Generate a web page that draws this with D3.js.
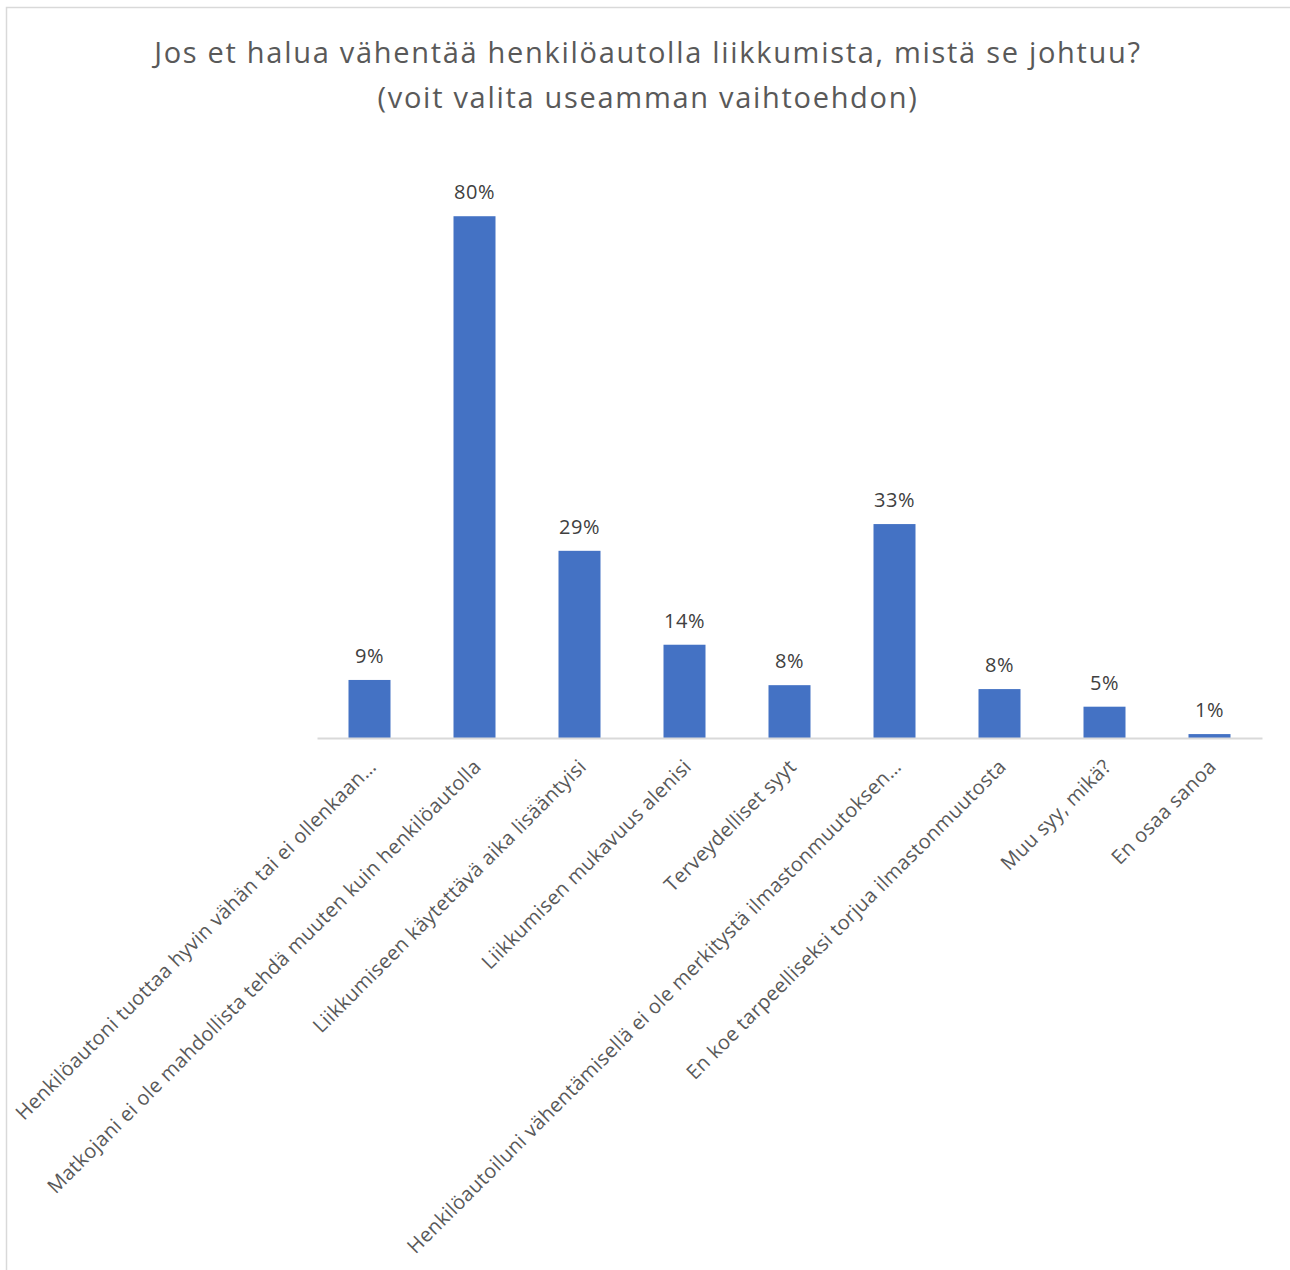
<!DOCTYPE html>
<html>
<head>
<meta charset="utf-8">
<script src="https://cdn.jsdelivr.net/npm/d3@7"></script>
<style>
  body { margin: 0; background: #fff; }
  #chart { width: 1290px; height: 1270px; }
</style>
</head>
<body>
<div id="chart"></div>
<script>
// otsikko
const titleLines = [
    "Jos et halua vähentää henkilöautolla liikkumista, mistä se johtuu?",
    "(voit valita useamman vaihtoehdon)"
];

// vastausvaihtoehdot
const categories = [
    "Henkilöautoni tuottaa hyvin vähän tai ei ollenkaan…",
    "Matkojani ei ole mahdollista tehdä muuten kuin henkilöautolla",
    "Liikkumiseen käytettävä aika lisääntyisi",
    "Liikkumisen mukavuus alenisi",
    "Terveydelliset syyt",
    "Henkilöautoiluni vähentämisellä ei ole merkitystä ilmastonmuutoksen…",
    "En koe tarpeelliseksi torjua ilmastonmuutosta",
    "Muu syy, mikä?",
    "En osaa sanoa"
];

// osuudet (%)
const values = [8.9, 80, 28.7, 14.3, 8.1, 32.8, 7.5, 4.8, 0.6];

const yMax = 90;

const W = 1290, H = 1270;
const plot = { left: 317, right: 1262, top: 151, bottom: 738 };

const svg = d3.select("#chart")
    .append("svg")
    .attr("width", W)
    .attr("height", H)
    .style("font-family", "'Open Sans', sans-serif");

// kehys
svg.append("rect")
    .attr("x", 6.5)
    .attr("y", 7.5)
    .attr("width", W + 10)
    .attr("height", H + 10)
    .attr("fill", "#fff")
    .attr("stroke", "#d9d9d9")
    .attr("stroke-width", 1.5);

// otsikko
svg.append("g")
    .selectAll("text")
    .data(titleLines)
    .enter()
    .append("text")
    .attr("x", 648)
    .attr("y", (d, i) => 63 + i * 45)
    .attr("text-anchor", "middle")
    .attr("font-size", "29px")
    .attr("letter-spacing", "1.7px")
    .attr("fill", "#595959")
    .text(d => d);

const xScale = d3.scaleBand()
    .domain(categories)
    .range([plot.left, plot.right])
    .paddingInner(0.6)
    .paddingOuter(0.3);

const yScale = d3.scaleLinear()
    .domain([0, yMax])
    .range([plot.bottom, plot.top]);

// pylväät
svg.selectAll(".bar")
    .data(categories)
    .enter()
    .append("rect")
    .attr("class", "bar")
    .attr("x", d => xScale(d))
    .attr("y", (d, i) => yScale(values[i]))
    .attr("width", xScale.bandwidth())
    .attr("height", (d, i) => yScale(0) - yScale(values[i]))
    .attr("fill", "#4472C4");

// x-akseli
const xAxis = svg.append("g")
    .attr("transform", `translate(0,${plot.bottom})`)
    .call(d3.axisBottom(xScale).tickSize(0).tickPadding(0));

xAxis.select(".domain")
    .attr("stroke", "#d9d9d9")
    .attr("stroke-width", 2);

xAxis.selectAll("text")
    .attr("font-family", "'Open Sans', sans-serif")
    .attr("font-size", "20px")
    .attr("letter-spacing", "0.35px")
    .attr("fill", "#595959")
    .attr("text-anchor", "end")
    .attr("dy", "0.35em")
    .attr("transform", "translate(3,25) rotate(-45)")
    .attr("y", 0);

// arvot
svg.selectAll(".bar-label")
    .data(categories)
    .enter()
    .append("text")
    .attr("class", "bar-label")
    .attr("x", d => xScale(d) + xScale.bandwidth() / 2)
    .attr("y", (d, i) => yScale(values[i]) - 17)
    .attr("text-anchor", "middle")
    .attr("font-size", "20px")
    .attr("letter-spacing", "0.6px")
    .attr("fill", "#404040")
    .text((d, i) => Math.round(values[i]) + "%");
</script>
</body>
</html>
